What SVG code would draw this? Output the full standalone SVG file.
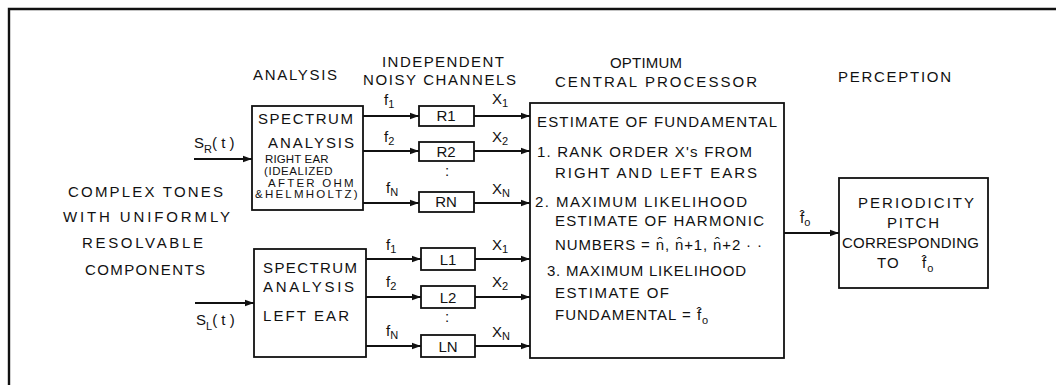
<svg xmlns="http://www.w3.org/2000/svg" width="1056" height="385" viewBox="0 0 1056 385">
  <style>
    .box { fill: none; stroke: #111; stroke-width: 1.8; }
    .wire { fill: none; stroke: #111; stroke-width: 1.8; marker-end: url(#arrow); }
    .frame { fill: none; stroke: #111; stroke-width: 2.4; }
    text { font-family: "Liberation Sans", "DejaVu Sans", Arial, sans-serif; fill: #111; font-size: 14px; }
    .head { font-size: 15px; }
    .body { font-size: 15px; letter-spacing: 1px; }
    .small { font-size: 11.5px; letter-spacing: 0.5px; }
    .lab { font-size: 15px; }
    .sub { font-size: 11px; }
    .mid { text-anchor: middle; }
  </style>
  <defs>
    <marker id="arrow" viewBox="0 0 10 10" refX="10" refY="5" markerWidth="5" markerHeight="5" orient="auto" markerUnits="strokeWidth">
      <path d="M0,1.5 L10,5 L0,8.5 z" fill="#111"/>
    </marker>
  </defs>

  <rect width="1056" height="385" fill="#fff"/>

  <!-- outer frame: only top and left edges show -->
  <path class="frame" d="M9,385 L9,9 L1056,9"/>

  <!-- column headings -->
  <g id="headings">
    <text class="head" x="253" y="80" textLength="84">ANALYSIS</text>
    <text class="head" x="382" y="67" textLength="122">INDEPENDENT</text>
    <text class="head" x="363" y="85" textLength="153">NOISY CHANNELS</text>
    <text class="head" x="610" y="68" textLength="72">OPTIMUM</text>
    <text class="head" x="555" y="87" textLength="202">CENTRAL PROCESSOR</text>
    <text class="head" x="838" y="82" textLength="113">PERCEPTION</text>
  </g>

  <!-- input description -->
  <g id="input">
    <text class="head" x="68" y="197" textLength="155">COMPLEX TONES</text>
    <text class="head" x="63" y="222" textLength="167">WITH UNIFORMLY</text>
    <text class="head" x="82" y="248" textLength="121">RESOLVABLE</text>
    <text class="head" x="85" y="275" textLength="120">COMPONENTS</text>
    <text class="lab" x="194" y="148">S<tspan class="sub" dy="5">R</tspan><tspan dy="-5">( t )</tspan></text>
    <text class="lab" x="196" y="325">S<tspan class="sub" dy="5">L</tspan><tspan dy="-5">( t )</tspan></text>
  </g>

  <!-- right-ear spectrum analyser -->
  <g id="spectrum-right">
    <rect class="box" x="252" y="106" width="111" height="104"/>
    <text class="body" x="258" y="124" textLength="96">SPECTRUM</text>
    <text class="body" x="268" y="148" textLength="87">ANALYSIS</text>
    <text class="small" x="265" y="163" textLength="64">RIGHT EAR</text>
    <text class="small" x="264" y="175" textLength="69">(IDEALIZED</text>
    <text class="small" x="268" y="187" textLength="86">AFTER OHM</text>
    <text class="small" x="255" y="198" textLength="103">&amp;HELMHOLTZ)</text>
  </g>

  <!-- left-ear spectrum analyser -->
  <g id="spectrum-left">
    <rect class="box" x="254" y="249" width="112" height="108"/>
    <text class="body" x="263" y="273" textLength="95">SPECTRUM</text>
    <text class="body" x="263" y="292" textLength="92">ANALYSIS</text>
    <text class="body" x="263" y="321" textLength="87">LEFT EAR</text>
  </g>

  <!-- right-ear channels -->
  <g id="channel-R1">
    <rect class="box" x="419" y="106" width="55" height="20"/>
    <text class="lab mid" x="446" y="121">R1</text>
  </g>
  <g id="channel-R2">
    <rect class="box" x="419" y="142" width="55" height="19"/>
    <text class="lab mid" x="446" y="157">R2</text>
  </g>
  <g id="channel-RN">
    <rect class="box" x="419" y="192" width="55" height="20"/>
    <text class="lab mid" x="446" y="207">RN</text>
  </g>

  <!-- left-ear channels -->
  <g id="channel-L1">
    <rect class="box" x="421" y="248" width="54" height="22"/>
    <text class="lab mid" x="448" y="265">L1</text>
  </g>
  <g id="channel-L2">
    <rect class="box" x="421" y="286" width="54" height="22"/>
    <text class="lab mid" x="448" y="303">L2</text>
  </g>
  <g id="channel-LN">
    <rect class="box" x="421" y="335" width="54" height="22"/>
    <text class="lab mid" x="448" y="352">LN</text>
  </g>

  <!-- central processor -->
  <g id="central-processor">
    <rect class="box" x="530" y="103" width="254" height="255"/>
    <text class="body" x="537" y="127" textLength="241">ESTIMATE OF FUNDAMENTAL</text>
    <text class="body" x="537" y="157" textLength="216">1. RANK ORDER X's FROM</text>
    <text class="body" x="555" y="178" textLength="203">RIGHT AND LEFT EARS</text>
    <text class="body" x="535" y="207" textLength="213">2. MAXIMUM LIKELIHOOD</text>
    <text class="body" x="555" y="226" textLength="210">ESTIMATE OF HARMONIC</text>
    <text class="body" x="555" y="250" textLength="208">NUMBERS = n&#x302;, n&#x302;+1, n&#x302;+2 · ·</text>
    <text class="body" x="547" y="276" textLength="200">3. MAXIMUM LIKELIHOOD</text>
    <text class="body" x="555" y="298" textLength="115">ESTIMATE  OF</text>
    <text class="body" x="555" y="320">FUNDAMENTAL = f&#x302;<tspan class="sub" dy="4">o</tspan></text>
  </g>

  <!-- perception -->
  <g id="perception">
    <rect class="box" x="839" y="178" width="149" height="110"/>
    <text class="body" x="858" y="208" textLength="117">PERIODICITY</text>
    <text class="body" x="887" y="228" textLength="53">PITCH</text>
    <text class="body" x="842" y="248" textLength="138">CORRESPONDING</text>
    <text class="body" x="877" y="268">TO<tspan x="922">f&#x302;</tspan><tspan class="sub" dy="4">o</tspan></text>
  </g>

  <!-- connectors and their labels -->
  <g id="connectors">
    <line class="wire" x1="194" y1="159" x2="252" y2="159"/>
    <line class="wire" x1="195" y1="303" x2="254" y2="303"/>

    <line class="wire" x1="363" y1="116" x2="419" y2="116"/>
    <line class="wire" x1="363" y1="151" x2="419" y2="151"/>
    <line class="wire" x1="363" y1="203" x2="419" y2="203"/>
    <line class="wire" x1="474" y1="116" x2="530" y2="116"/>
    <line class="wire" x1="474" y1="151" x2="530" y2="151"/>
    <line class="wire" x1="474" y1="203" x2="530" y2="203"/>

    <line class="wire" x1="366" y1="259" x2="421" y2="259"/>
    <line class="wire" x1="366" y1="297" x2="421" y2="297"/>
    <line class="wire" x1="366" y1="346" x2="421" y2="346"/>
    <line class="wire" x1="475" y1="259" x2="530" y2="259"/>
    <line class="wire" x1="475" y1="297" x2="530" y2="297"/>
    <line class="wire" x1="475" y1="346" x2="530" y2="346"/>

    <line class="wire" x1="784" y1="233" x2="839" y2="233"/>

    <!-- channel labels -->
    <text class="lab" x="384" y="105">f<tspan class="sub" dy="3">1</tspan></text>
    <text class="lab" x="384" y="142">f<tspan class="sub" dy="3">2</tspan></text>
    <text class="lab" x="386" y="193">f<tspan class="sub" dy="3">N</tspan></text>
    <text class="lab" x="492" y="104">X<tspan class="sub" dy="3">1</tspan></text>
    <text class="lab" x="492" y="142">X<tspan class="sub" dy="3">2</tspan></text>
    <text class="lab" x="492" y="194">X<tspan class="sub" dy="3">N</tspan></text>

    <text class="lab" x="386" y="250">f<tspan class="sub" dy="3">1</tspan></text>
    <text class="lab" x="386" y="287">f<tspan class="sub" dy="3">2</tspan></text>
    <text class="lab" x="386" y="336">f<tspan class="sub" dy="3">N</tspan></text>
    <text class="lab" x="492" y="250">X<tspan class="sub" dy="3">1</tspan></text>
    <text class="lab" x="492" y="287">X<tspan class="sub" dy="3">2</tspan></text>
    <text class="lab" x="492" y="337">X<tspan class="sub" dy="3">N</tspan></text>

    <!-- ellipsis dots between channel 2 and channel N -->
    <text class="lab mid" x="447" y="176">:</text>
    <text class="lab mid" x="447" y="322">:</text>

    <!-- estimated fundamental -->
    <text class="lab" x="800" y="223">f&#x302;<tspan class="sub" dy="3">o</tspan></text>
  </g>
</svg>
